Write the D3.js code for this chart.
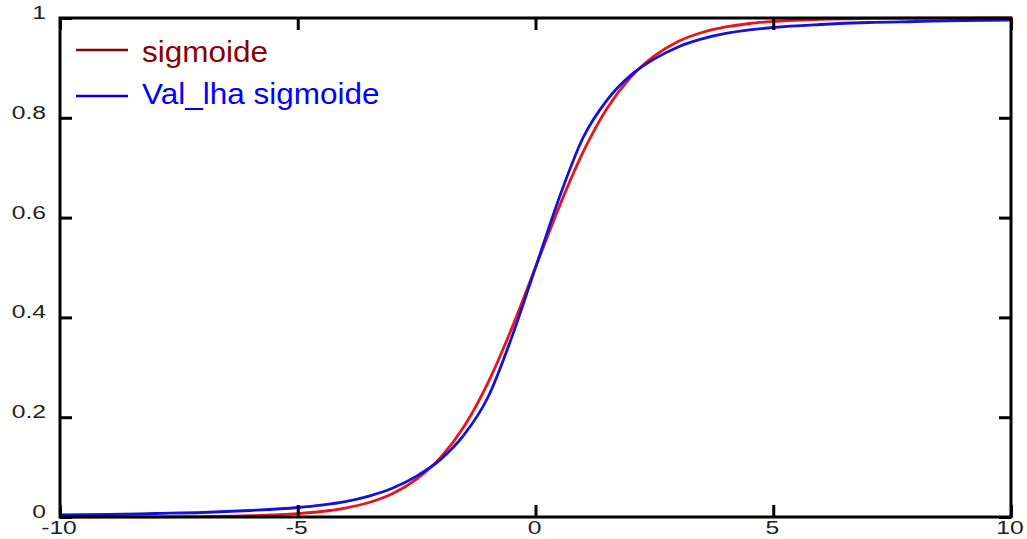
<!DOCTYPE html>
<html>
<head>
<meta charset="utf-8">
<script src="https://cdn.jsdelivr.net/npm/d3@7"></script>
<style>
  html, body { margin: 0; padding: 0; background: #fff; }
  svg { display: block; }
  text { font-family: "Liberation Sans", Arial, sans-serif; }
</style>
</head>
<body>
<svg id="chart" width="1027" height="539"></svg>
<script>
// Sample positions along the x axis
const xs = [-10, -9, -8, -7, -6, -5, -4.5, -4, -3.5, -3, -2.5, -2, -1.5, -1, -0.5,
            0, 0.5, 1, 1.5, 2, 2.5, 3, 3.5, 4, 4.5, 5, 6, 7, 8, 9, 10];

// Logistic sigmoid values
const sigmoide = [0.0000, 0.0001, 0.0003, 0.0009, 0.0025, 0.0067, 0.011, 0.018, 0.029, 0.047,
                  0.076, 0.119, 0.182, 0.269, 0.378, 0.5, 0.622, 0.731, 0.818, 0.881,
                  0.924, 0.953, 0.971, 0.982, 0.989, 0.993, 0.9975, 0.9991, 0.9997, 0.9999, 1.0];

// Approximation of the sigmoid
const valLhaSigmoide = [0.004, 0.005, 0.007, 0.009, 0.013, 0.019, 0.024, 0.031, 0.042, 0.058,
                        0.082, 0.115, 0.165, 0.24, 0.36, 0.5, 0.64, 0.76, 0.835, 0.885,
                        0.918, 0.942, 0.958, 0.969, 0.976, 0.981, 0.987, 0.991, 0.993, 0.995, 0.996];

const xTicks = [-10, -5, 0, 5, 10];
const yTicks = [0, 0.2, 0.4, 0.6, 0.8, 1];
const seriesNames = ["sigmoide", "Val_lha sigmoide"];

const svg = d3.select("#chart");
const plotLeft = 60, plotRight = 1011, plotTop = 18, plotBottom = 517;

const x = d3.scaleLinear().domain([-10, 10]).range([plotLeft, plotRight]);
const y = d3.scaleLinear().domain([0, 1]).range([plotBottom, plotTop]);

const series = [
  { name: seriesNames[0], values: sigmoide, stroke: "#e8141c", legendColor: "#8b0000" },
  { name: seriesNames[1], values: valLhaSigmoide, stroke: "#1212d8", legendColor: "#0000ff" }
];

const line = d3.line()
  .x(d => x(d[0]))
  .y(d => y(d[1]))
  .curve(d3.curveMonotoneX);

// Curves
series.forEach(s => {
  svg.append("path")
    .datum(xs.map((v, i) => [v, s.values[i]]))
    .attr("fill", "none")
    .attr("stroke", s.stroke)
    .attr("stroke-width", 2.8)
    .attr("stroke-linejoin", "round")
    .attr("d", line);
});

// Frame axes with inward ticks
const tickLen = 12;
const axisStyle = g => {
  g.select(".domain").remove();
  g.selectAll(".tick line").attr("stroke", "#000").attr("stroke-width", 3);
  g.selectAll("text").remove();
};
svg.append("g").attr("transform", `translate(0,${plotBottom})`)
  .call(d3.axisTop(x).tickValues(xTicks).tickSize(tickLen)).call(axisStyle);
svg.append("g").attr("transform", `translate(0,${plotTop})`)
  .call(d3.axisBottom(x).tickValues(xTicks).tickSize(tickLen)).call(axisStyle);
svg.append("g").attr("transform", `translate(${plotLeft},0)`)
  .call(d3.axisRight(y).tickValues(yTicks).tickSize(tickLen)).call(axisStyle);
svg.append("g").attr("transform", `translate(${plotRight},0)`)
  .call(d3.axisLeft(y).tickValues(yTicks).tickSize(tickLen)).call(axisStyle);

svg.append("rect")
  .attr("x", plotLeft).attr("y", plotTop)
  .attr("width", plotRight - plotLeft).attr("height", plotBottom - plotTop)
  .attr("fill", "none").attr("stroke", "#000").attr("stroke-width", 3);

// Tick labels (wide-set numerals)
const labelStretch = 1.3;
svg.append("g").selectAll("text").data(xTicks).join("text")
  .attr("transform", d => `translate(${x(d) - 1},534) scale(${labelStretch},1)`)
  .attr("text-anchor", "middle")
  .attr("font-size", 19)
  .attr("fill", "#222")
  .text(d => d);

svg.append("g").selectAll("text").data(yTicks).join("text")
  .attr("transform", d => `translate(46,${y(d) + 1}) scale(${labelStretch},1)`)
  .attr("text-anchor", "end")
  .attr("font-size", 19)
  .attr("fill", "#222")
  .text(d => d);

// Legend
const legend = svg.append("g");
const legendLineY = [50, 96];
const legendTextY = [62, 104];
series.forEach((s, i) => {
  legend.append("line")
    .attr("x1", 76).attr("x2", 128)
    .attr("y1", legendLineY[i]).attr("y2", legendLineY[i])
    .attr("stroke", s.legendColor).attr("stroke-width", 2.5);
  legend.append("text")
    .attr("transform", `translate(142,${legendTextY[i]}) scale(1.05,1)`)
    .attr("font-size", 30)
    .attr("fill", s.legendColor)
    .text(s.name);
});
</script>
</body>
</html>
